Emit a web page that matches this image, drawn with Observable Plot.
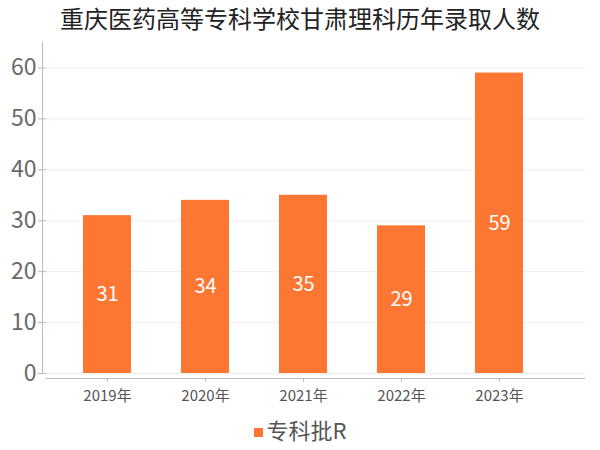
<!DOCTYPE html>
<html><head><meta charset="utf-8">
<script src="https://cdn.jsdelivr.net/npm/d3@7"></script>
<script src="https://cdn.jsdelivr.net/npm/@observablehq/plot@0.6"></script>
<style>
body{margin:0;background:#fff;font-family:"Noto Sans CJK SC","Noto Sans",sans-serif;}
#wrap{width:600px;height:450px;position:relative;}
#title{height:36px;line-height:36px;text-align:center;font-size:24px;color:#222;}
#legend{position:absolute;top:414px;left:0;width:600px;text-align:center;font-size:22px;line-height:30px;color:#555;}
#legend .sw{display:inline-block;width:9px;height:9px;background:#fd7632;margin-right:4px;vertical-align:middle;position:relative;top:-1px;}
</style></head>
<body><div id="wrap"><div id="title">重庆医药高等专科学校甘肃理科历年录取人数</div><div id="chart"></div><div id="legend"><span class="sw"></span>专科批R</div></div>
<script>
const years = ["2019年","2020年","2021年","2022年","2023年"];
const values = [31, 34, 35, 29, 59];
const seriesName = "专科批R";
const yTicks = [0,10,20,30,40,50,60];
const data = years.map((y,i)=>({year:y, value:values[i]}));
const color = "#fd7632";
const chart = Plot.plot({
  width:600, height:372,
  marginTop:6, marginBottom:35, marginLeft:46, marginRight:15,
  style:{fontFamily:"'Noto Sans CJK SC','Noto Sans',sans-serif", background:"#fff"},
  x:{domain:years, range:[58,549], paddingInner:0.51, paddingOuter:0.255, label:null},
  y:{domain:[0,65], label:null},
  marks:[
    Plot.gridY(yTicks, {stroke:"#eee", strokeOpacity:1}),
    Plot.frame({anchor:"left", dx:-4, stroke:"#bbb"}),
    Plot.ruleY([0], {dy:5, stroke:"#bbb"}),
    Plot.axisY(yTicks, {tickSize:8, tickPadding:2, fontSize:23, color:"#6a6a6a", stroke:"#bbb", label:null, tickFormat:d=>d}),
    Plot.axisX({dy:5, tickSize:4, tickPadding:8, fontSize:15, color:"#555", stroke:"#bbb", label:null}),
    Plot.barY(data, {x:"year", y:"value", fill:color}),
    Plot.text(data, {x:"year", y:d=>d.value/2, text:d=>String(d.value), fill:"#fff", fontSize:20})
  ]
});
document.getElementById("chart").appendChild(chart);
</script></body></html>
